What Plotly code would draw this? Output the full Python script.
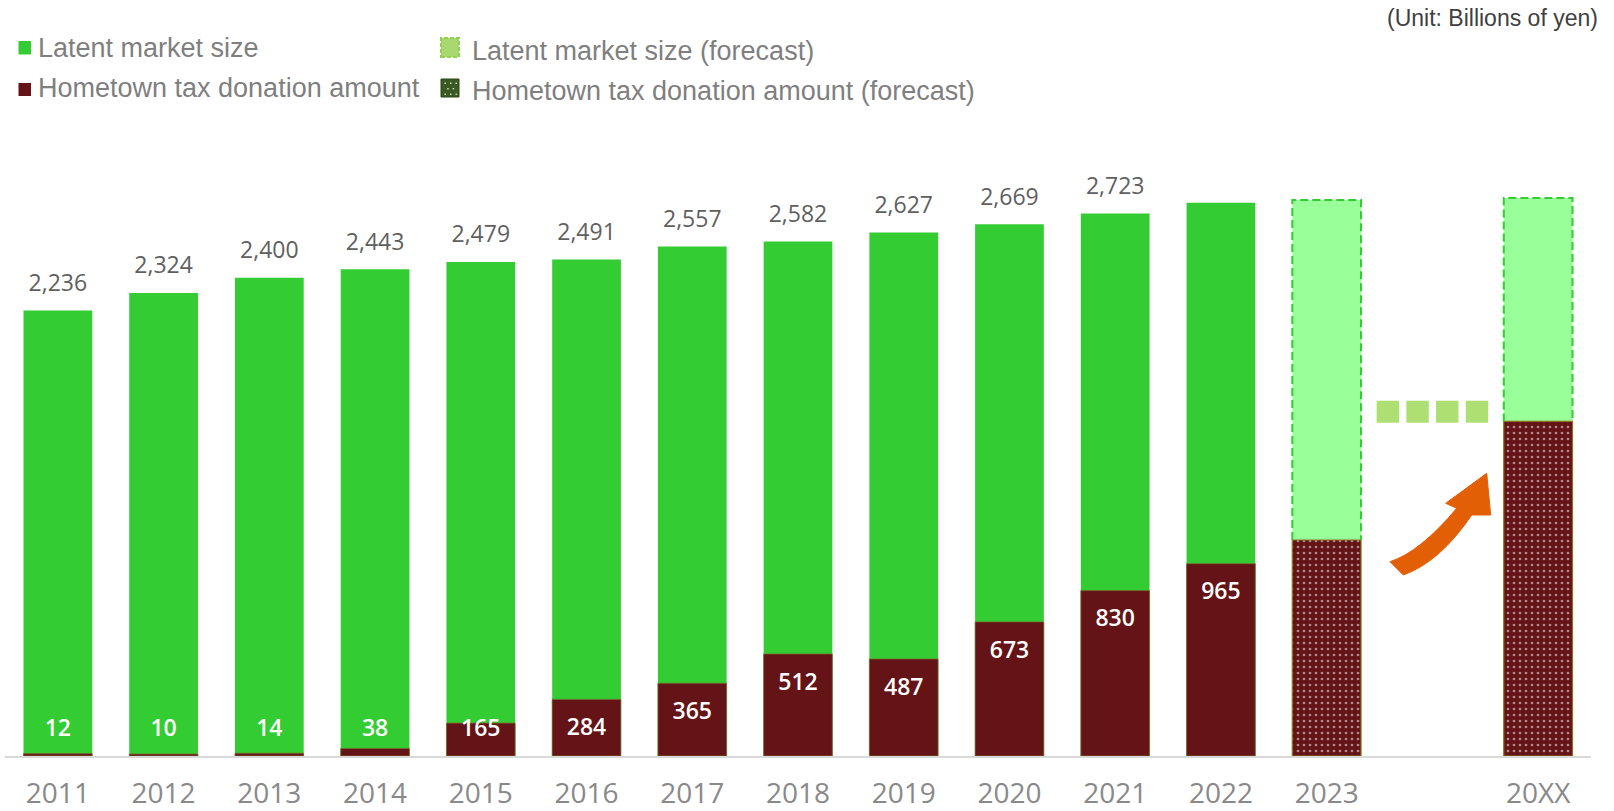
import plotly.graph_objects as go

# ---------------- data ----------------
years = ['2011', '2012', '2013', '2014', '2015', '2016', '2017', '2018',
         '2019', '2020', '2021', '2022']
latent = [2236, 2324, 2400, 2443, 2479, 2491, 2557, 2582, 2627, 2669, 2723, 2776]
latent_labels = ['2,236', '2,324', '2,400', '2,443', '2,479', '2,491', '2,557',
                 '2,582', '2,627', '2,669', '2,723', '']
donation = [12, 10, 14, 38, 165, 284, 365, 512, 487, 673, 830, 965]

forecast_years = ['2023', '20XX']
forecast_latent = [2790, 2800]
forecast_donation = [1084, 1679]

# slots on the x axis (one empty slot before 20XX)
x_actual = list(range(len(years)))
x_fore = [len(years), len(years) + 2]
tick_pos = x_actual + x_fore
tick_text = years + forecast_years

# ---------------- geometry ----------------
W, H = 1614, 811
ML, MR, MT, MB = 5, 23, 100, 55
YMAX = 3292
XMIN, XMAX = -0.5, 14.5
BAR_W = 0.65
PW = W - ML - MR
PH = H - MT - MB


def px2x(px):
    return XMIN + (px - ML) / PW * (XMAX - XMIN)


def py2y(py):
    return (H - MB - py) / PH * YMAX


def px2p(px):
    return (px - ML) / PW


def py2p(py):
    return (H - MB - py) / PH


GREEN = '#33cc33'
LIGHT_GREEN = '#99ff99'
MAROON = '#641416'
LABEL_FONT = 'Open Sans'

fig = go.Figure()

fig.add_trace(go.Bar(x=x_actual, y=latent, width=BAR_W, marker_color=GREEN,
                     marker_line_width=0, showlegend=False, hoverinfo='skip'))
fig.add_trace(go.Bar(x=x_fore, y=forecast_latent, width=BAR_W, marker_color=LIGHT_GREEN,
                     marker_line_width=0, showlegend=False, hoverinfo='skip'))
fig.add_trace(go.Bar(x=x_actual, y=donation, width=BAR_W, marker_color=MAROON,
                     marker_line=dict(color='#7a6a30', width=0.8),
                     showlegend=False, hoverinfo='skip'))
fig.add_trace(go.Bar(x=x_fore, y=forecast_donation, width=BAR_W,
                     marker=dict(color=MAROON,
                                 line=dict(color='#8a6f1e', width=1.2),
                                 pattern=dict(shape='.', bgcolor=MAROON, fgcolor='white',
                                              size=6, solidity=0.16)),
                     showlegend=False, hoverinfo='skip'))

# top labels (latent market size)
fig.add_trace(go.Scatter(x=x_actual, y=[v + 127 for v in latent], mode='text',
                         text=latent_labels, textposition='middle center',
                         textfont=dict(family=LABEL_FONT, size=23, color='#5f5f5f'),
                         showlegend=False, hoverinfo='skip'))
# inner labels (donation amount)
fig.add_trace(go.Scatter(x=x_actual, y=[max(v - 150, 130) for v in donation], mode='text',
                         text=[str(v) for v in donation], textposition='middle center',
                         textfont=dict(family=LABEL_FONT, size=23, color='white', weight=600),
                         showlegend=False, hoverinfo='skip'))

shapes = []
# dashed borders on forecast latent bars
for c, t, d in zip(x_fore, forecast_latent, forecast_donation):
    x0, x1 = c - BAR_W / 2, c + BAR_W / 2
    shapes.append(dict(type='path', xref='x', yref='y',
                       path=f'M {x0},{d} L {x0},{t} L {x1},{t} L {x1},{d}',
                       line=dict(color=GREEN, width=2, dash='8px,4px'), layer='above'))

# four small squares in the gap slot
gap_c = len(years) + 1
sq_w = 0.212
sq_step = 0.281
sq_cy = py2y(411.7)
sq_h = 22 * YMAX / PH
for k in range(4):
    cx = gap_c + (k - 1.5) * sq_step
    shapes.append(dict(type='rect', xref='x', yref='y', x0=cx - sq_w / 2, x1=cx + sq_w / 2,
                       y0=sq_cy - sq_h / 2, y1=sq_cy + sq_h / 2,
                       fillcolor='#addf72', line=dict(width=0), layer='above'))

# curved orange arrow (decoration)
def P(px, py):
    return f'{px2x(px):.4f},{py2y(py):.2f}'

arrow_path = ('M ' + P(1390, 561.7) +
              ' Q ' + P(1420, 552) + ' ' + P(1456.7, 508.3) +
              ' L ' + P(1445.7, 503.3) +
              ' L ' + P(1486.7, 473.3) +
              ' L ' + P(1490.7, 515) +
              ' L ' + P(1471.7, 515) +
              ' Q ' + P(1440, 562) + ' ' + P(1403.3, 575) +
              ' Z')
shapes.append(dict(type='path', xref='x', yref='y', path=arrow_path,
                   fillcolor='#e35f06', line=dict(color='#e35f06', width=1), layer='above'))

# legend swatches
def rect_px(x0, y0, x1, y1, fill, line=None):
    d = dict(type='rect', xref='paper', yref='paper', x0=px2p(x0), x1=px2p(x1),
             y0=py2p(y1), y1=py2p(y0), fillcolor=fill, layer='above')
    d['line'] = line if line else dict(width=0)
    return d

shapes.append(rect_px(18.5, 41, 31, 54.5, GREEN))
shapes.append(rect_px(18.5, 83, 31, 96, MAROON))
shapes.append(rect_px(441, 38, 459, 57, '#a9d86e', dict(color='#92d050', width=2, dash='4px,2px')))
shapes.append(rect_px(441, 79, 459, 97, '#3b5a23', dict(color='#2e471b', width=1)))
# dots on the forecast-donation legend swatch
for i in range(3):
    for j in range(3):
        cx = 444.5 + i * 5.5 + (2.7 if j % 2 else 0)
        cy = 82.5 + j * 5.5
        if cx < 457:
            shapes.append(rect_px(cx, cy, cx + 1.4, cy + 1.4, '#d8e4c8'))

LEG_FONT = dict(family='Liberation Sans, Arial', size=27, color='#7f7f7f')
annotations = []
for txt, x, y in [('Latent market size', 36, 48.4),
                  ('Hometown tax donation amount', 36, 88.5),
                  ('Latent market size (forecast)', 470, 51.5),
                  ('Hometown tax donation amount (forecast)', 470, 90.6)]:
    annotations.append(dict(text=txt, xref='paper', yref='paper', x=px2p(x), y=py2p(y),
                            xanchor='left', yanchor='middle', showarrow=False, font=LEG_FONT))
annotations.append(dict(text='(Unit: Billions of yen)', xref='paper', yref='paper',
                        x=px2p(1600), y=py2p(17.5), xanchor='right', yanchor='middle',
                        showarrow=False,
                        font=dict(family='Liberation Sans, Arial', size=23, color='#404040')))

fig.update_layout(
    width=W, height=H,
    margin=dict(l=ML, r=MR, t=MT, b=MB, autoexpand=False),
    barmode='overlay',
    plot_bgcolor='white', paper_bgcolor='white',
    showlegend=False,
    shapes=shapes,
    annotations=annotations,
    xaxis=dict(range=[XMIN, XMAX], tickmode='array', tickvals=tick_pos, ticktext=tick_text,
               showgrid=False, zeroline=False, showline=True, linecolor='#d9d9d9', linewidth=2,
               ticks='', ticklabelstandoff=11,
               tickfont=dict(family=LABEL_FONT, size=28, color='#898989'), fixedrange=True),
    yaxis=dict(range=[0, YMAX], visible=False, showgrid=False, zeroline=False, fixedrange=True),
)

fig.write_html('out.html', config={'displayModeBar': False},
               post_script="document.body.style.margin='0';document.body.style.overflow='hidden';")
